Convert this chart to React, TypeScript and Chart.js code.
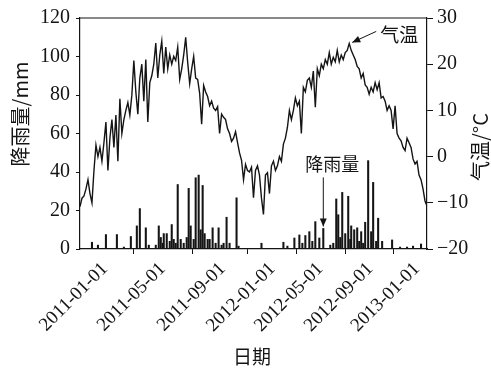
import React, { useEffect, useRef } from "react";
import { Chart, registerables } from "chart.js";

Chart.register(...registerables);

// sample index 0..174 along the (non-uniform) date axis
const temperature = [
  -10.8, -9, -8.5, -7, -5, -8, -10, -3, 2.5, 0,
  2, -1, 3, 7.5, -3, 4, 8, 2, 9, -1,
  12.5, 5, 8, 10, 11.7, 9, 13.3, 20.8, 14, 9.2,
  17, 20, 12, 21, 7.5, 16, 17.5, 20, 24.6, 17,
  22, 25, 18, 23.7, 19, 22, 20, 21.7, 20.8, 23.7,
  16.7, 19, 22, 25.8, 20.4, 15.8, 19, 21.7, 17, 16.7,
  13.7, 7, 15.4, 14, 13, 11, 12, 10.5, 10, 10.8,
  5, 9.2, 8.5, 8, 6, 5, 3.3, 4, 5.4, 3,
  0.8, -0.8, -5, -1.7, -3, -3.3, -2.3, -8.9, -3, -2,
  -4, -9, -12.5, -4, -3.5, -8, -2, -1, -3, -2,
  0, -1, 2.7, 4, 6.3, 10, 8, 10, 12.7, 11,
  12, 5, 15, 14, 16.5, 17, 15, 18.5, 10.7, 19,
  17.5, 20, 19, 21, 20, 22.5, 20, 21.5, 20.5, 23,
  20.5, 22, 21, 22.5, 23, 24.5, 23, 22, 21, 19.5,
  19, 17, 18, 15.5, 15, 13.5, 15, 14, 16, 14.5,
  16, 12.7, 13, 12, 10, 11, 10, 6, 11, 5,
  4, 3.4, 2, 1.3, 4, 3, 2, -0.5, -1.6, -1,
  -4, -5, -7, -9.6, -10.7,
];

const rainIdx = [
  6, 9, 13, 18.5, 22, 25.5, 28.5, 30, 33, 34.5,
  38, 39.5, 40.5, 41.5, 42, 43.5, 45, 46, 47, 48,
  49, 50.5, 52, 53.5, 54.5, 55.5, 57, 58, 59.5, 60.5,
  61.5, 62.5, 64, 65, 66.5, 68, 69.5, 71, 72, 73.5,
  75, 78.5, 79.5, 91, 102, 104, 107.5, 110, 111.5, 113,
  115, 116.5, 118, 120, 122, 125.5, 127, 128.5, 129.5, 130.5,
  131.5, 133, 134.5, 135.5, 136, 137.5, 139, 140, 141, 142,
  143, 144.5, 146, 147, 148.5, 149.5, 151.5, 156.5, 160.5, 164,
  167, 171,
];
const rainMm = [
  3.5, 2, 7.5, 7.5, 1, 6.5, 12, 21, 11, 2,
  2, 12, 6, 3, 8, 8, 4, 12.7, 5, 3,
  33.5, 5, 3, 6, 31.5, 12, 5, 37, 38.4, 10,
  33, 8, 5, 5, 11, 3, 11, 2, 3, 16.5,
  3, 26.6, 1.5, 3, 3.5, 1.5, 5.7, 7.3, 3, 7,
  9, 4, 14.2, 5.7, 10.7, 2, 3, 26, 17.8, 6,
  29.4, 8, 27.4, 5, 12, 10, 11, 4, 9, 3,
  13.9, 45.9, 9, 34.6, 4, 16, 4, 4.7, 1, 1,
  1.5, 2.6,
];

const tickIdx = [12.5, 41.5, 71.5, 96.5, 120.5, 145.5, 169];
const tickLabels = [
  "2011-01-01", "2011-05-01", "2011-09-01", "2012-01-01",
  "2012-05-01", "2012-09-01", "2013-01-01",
];

const TEMP_PEAK_IDX = 135;
const RAIN_ARROW_IDX = 122;

const INK = "#141414";
const SERIF = "'Liberation Serif', 'Times New Roman', serif";
const CJK = "'Noto Sans CJK SC', sans-serif";

const minus = (v: number) => (v < 0 ? "\u2212" + Math.abs(v) : String(v));

const decor = {
  id: "decor",
  afterDraw(chart: any) {
    const { ctx, chartArea } = chart;
    const sx = chart.scales.x;
    const sT = chart.scales.yT;
    const sP = chart.scales.yP;
    ctx.save();
    ctx.strokeStyle = INK;
    ctx.fillStyle = INK;
    ctx.lineWidth = 1.2;
    // top frame
    ctx.beginPath();
    ctx.moveTo(chartArea.left, chartArea.top);
    ctx.lineTo(chartArea.right, chartArea.top);
    ctx.stroke();

    // axis titles
    ctx.textAlign = "center";
    ctx.textBaseline = "middle";
    ctx.font = `20px ${CJK}`;
    ctx.save();
    ctx.translate(20, 114);
    ctx.rotate(-Math.PI / 2);
    ctx.fillText("降雨量/mm", 0, 0);
    ctx.restore();
    ctx.save();
    ctx.translate(480, 147);
    ctx.rotate(-Math.PI / 2);
    ctx.fillText("气温/°C", 0, 0);
    ctx.restore();
    ctx.font = `19px ${CJK}`;
    ctx.fillText("日期", 252, 357);

    // annotations
    const arrow = (x1: number, y1: number, x2: number, y2: number) => {
      ctx.beginPath();
      ctx.moveTo(x1, y1);
      ctx.lineTo(x2, y2);
      ctx.stroke();
      const a = Math.atan2(y2 - y1, x2 - x1);
      const L = 8, W = 3.5;
      ctx.beginPath();
      ctx.moveTo(x2, y2);
      ctx.lineTo(x2 - L * Math.cos(a) + W * Math.sin(a), y2 - L * Math.sin(a) - W * Math.cos(a));
      ctx.lineTo(x2 - L * Math.cos(a) - W * Math.sin(a), y2 - L * Math.sin(a) + W * Math.cos(a));
      ctx.closePath();
      ctx.fill();
    };
    const px = sx.getPixelForValue(TEMP_PEAK_IDX);
    const py = sT.getPixelForValue(temperature[TEMP_PEAK_IDX]);
    ctx.font = `19px ${CJK}`;
    ctx.textAlign = "left";
    ctx.fillText("气温", px + 31, py - 9);
    ctx.lineWidth = 1;
    arrow(px + 27, py - 12, px + 3, py - 1);

    const rx = sx.getPixelForValue(RAIN_ARROW_IDX);
    const ry = sP.getPixelForValue(10.7);
    ctx.textAlign = "center";
    ctx.font = `18px ${CJK}`;
    ctx.fillText("降雨量", rx + 9, ry - 64);
    arrow(rx, ry - 51, rx, ry - 2);
    ctx.restore();
  },
};

export default function App() {
  const ref = useRef<HTMLCanvasElement | null>(null);
  useEffect(() => {
    document.body.style.margin = "0";
    const canvas = ref.current!;
    const chart = new Chart(canvas, {
      type: "bar",
      data: {
        datasets: [
          {
            type: "line",
            label: "气温",
            data: temperature.map((v, i) => ({ x: i, y: v })),
            yAxisID: "yT",
            borderColor: INK,
            borderWidth: 1.4,
            pointRadius: 0,
            tension: 0,
          } as any,
          {
            type: "bar",
            label: "降雨量",
            data: rainIdx.map((x, i) => ({ x, y: rainMm[i] })),
            yAxisID: "yP",
            backgroundColor: INK,
            barThickness: 1.4,
          } as any,
        ],
      },
      options: {
        animation: false,
        responsive: false,
        layout: { padding: { top: 18, left: 0, right: 0, bottom: 0 } },
        plugins: { legend: { display: false }, tooltip: { enabled: false } },
        scales: {
          x: {
            type: "linear",
            min: 0,
            max: 174,
            offset: false,
            afterBuildTicks: (s: any) => {
              s.ticks = tickIdx.map((v) => ({ value: v }));
            },
            afterFit: (s: any) => {
              s.height = 120;
            },
            ticks: {
              autoSkip: false,
              minRotation: 45,
              maxRotation: 45,
              padding: 4,
              color: INK,
              font: { family: SERIF, size: 19 },
              callback: (_v: any, i: number) => tickLabels[i],
            },
            grid: { drawOnChartArea: false, drawTicks: true, tickLength: 5, color: INK },
            border: { display: true, color: INK, width: 1.2 },
          },
          yP: {
            type: "linear",
            position: "left",
            min: 0,
            max: 120,
            afterFit: (s: any) => {
              s.width = 80;
            },
            ticks: {
              stepSize: 20,
              padding: 6,
              color: INK,
              font: { family: SERIF, size: 20 },
            },
            grid: { drawOnChartArea: false, tickLength: 4, color: INK },
            border: { display: true, color: INK, width: 1.2 },
          },
          yT: {
            type: "linear",
            position: "right",
            min: -20,
            max: 30,
            afterFit: (s: any) => {
              s.width = 64;
            },
            ticks: {
              stepSize: 10,
              padding: 4,
              color: INK,
              font: { family: SERIF, size: 20 },
              callback: (v: any) => minus(Number(v)),
            },
            grid: { drawOnChartArea: false, tickLength: 6, color: INK },
            border: { display: true, color: INK, width: 1.2 },
          },
        },
      },
      plugins: [decor],
    });
    return () => chart.destroy();
  }, []);
  return (
    <div style={{ width: 491, height: 369, background: "#fff" }}>
      <canvas ref={ref} width={491} height={369} />
    </div>
  );
}
